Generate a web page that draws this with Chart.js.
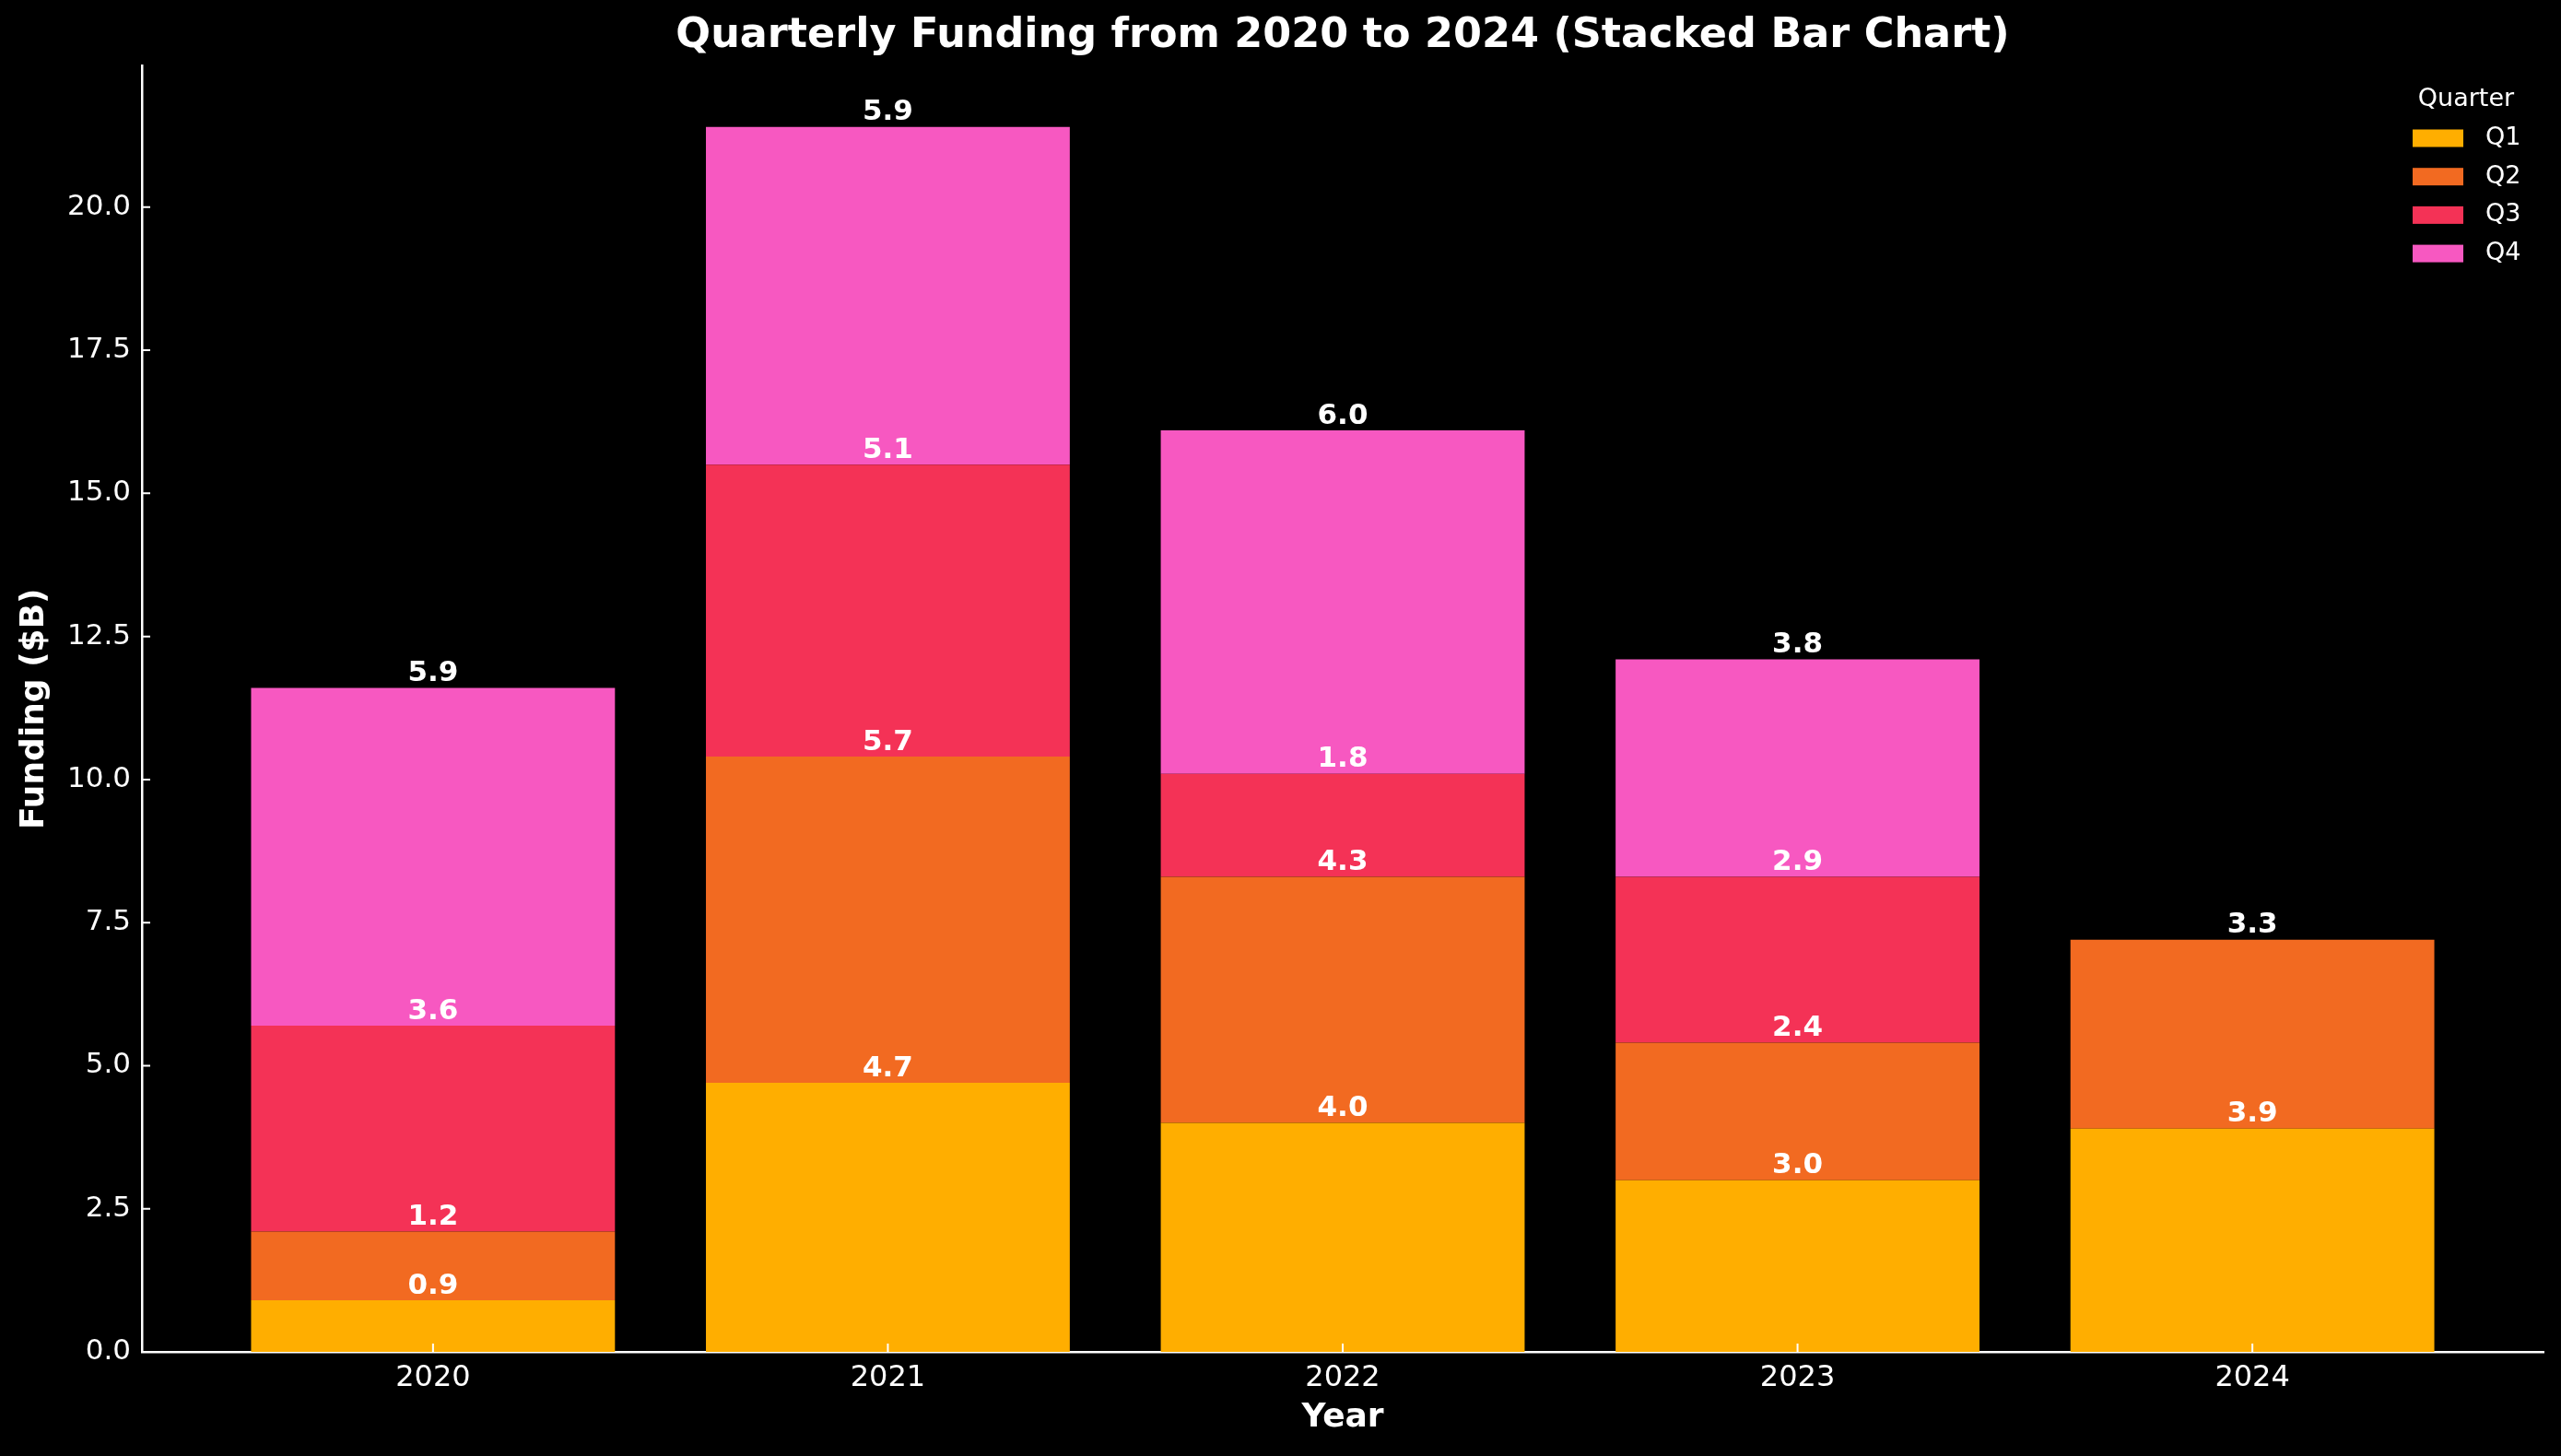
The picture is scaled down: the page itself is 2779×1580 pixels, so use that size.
<!DOCTYPE html>
<html>
<head>
<meta charset="utf-8">
<title>Quarterly Funding</title>
<script src="https://cdn.jsdelivr.net/npm/chart.js@4/dist/chart.umd.min.js"></script>
<style>
  html, body { margin: 0; padding: 0; background: #000; }
  canvas { display: block; }
</style>
</head>
<body>
<canvas id="chart" width="2779" height="1580"></canvas>
<script>
    // values ($B)
    const years = [2020, 2021, 2022, 2023, 2024]
    const q1 = [0.9, 4.7, 4.0, 3.0, 3.9]
    const q2 = [1.2, 5.7, 4.3, 2.4, 3.3]
    const q3 = [3.6, 5.1, 1.8, 2.9, null]
    const q4 = [5.9, 5.9, 6.0, 3.8, null]
    const quarterNames = ['Q1', 'Q2', 'Q3', 'Q4']
    const quarterColors = ['#ffae00', '#f26a21', '#f43256', '#f758c1']
    const yTicks = [0, 2.5, 5, 7.5, 10, 12.5, 15, 17.5, 20]

    const FONT = '"DejaVu Sans", "Liberation Sans", sans-serif'

    // matplotlib style: tick marks point into the plot
    const inwardTicks = {
        id: 'inwardTicks',
        afterDraw(chart) {
            const { ctx, chartArea } = chart
            const x = chart.scales.x
            const y = chart.scales.y
            ctx.save()
            ctx.strokeStyle = '#fff'
            ctx.lineWidth = 2
            ctx.beginPath()
            x.ticks.forEach(t => {
                const px = x.getPixelForValue(t.value)
                ctx.moveTo(px, chartArea.bottom)
                ctx.lineTo(px, chartArea.bottom - 9)
            })
            y.ticks.forEach(t => {
                const py = y.getPixelForValue(t.value)
                ctx.moveTo(chartArea.left, py)
                ctx.lineTo(chartArea.left + 9, py)
            })
            ctx.stroke()
            ctx.restore()
        }
    }

    // value printed on top of each segment
    const segmentLabels = {
        id: 'segmentLabels',
        afterDatasetsDraw(chart) {
            const { ctx } = chart
            ctx.save()
            ctx.fillStyle = '#fff'
            ctx.font = 'bold 31px ' + FONT
            ctx.textAlign = 'center'
            ctx.textBaseline = 'bottom'
            chart.data.datasets.forEach((ds, i) => {
                const meta = chart.getDatasetMeta(i)
                meta.data.forEach((bar, j) => {
                    const v = ds.data[j]
                    if (v == null) return
                    ctx.fillText(v.toFixed(1), bar.x, bar.y)
                })
            })
            ctx.restore()
        }
    }

    // legend sits inside the plot, top right
    const quarterLegend = {
        id: 'quarterLegend',
        afterDraw(chart) {
            const { ctx, chartArea } = chart
            const x0 = chartArea.right - 142
            ctx.save()
            ctx.font = '27px ' + FONT
            ctx.fillStyle = '#fff'
            ctx.textAlign = 'center'
            ctx.textBaseline = 'middle'
            ctx.fillText('Quarter', x0 + 58, 108)
            ctx.textAlign = 'left'
            chart.data.datasets.forEach((ds, i) => {
                const cy = 150 + i * 41.7
                ctx.fillStyle = ds.backgroundColor
                ctx.fillRect(x0, cy - 9.5, 55, 19)
                ctx.fillStyle = '#fff'
                ctx.fillText(ds.label, x0 + 79, cy)
            })
            ctx.restore()
        }
    }

    const series = [q1, q2, q3, q4]
    const datasets = series.map((values, i) => ({
        label: quarterNames[i],
        data: values,
        backgroundColor: quarterColors[i],
        borderWidth: 0,
        categoryPercentage: 1,
        barPercentage: 0.8,
    }))

    const chart = new Chart(document.getElementById('chart'), {
        type: 'bar',
        data: { labels: years, datasets },
        options: {
            responsive: false,
            animation: false,
            devicePixelRatio: 1,
            layout: { padding: { left: 0, right: 19, top: 0, bottom: 0 } },
            plugins: {
                legend: { display: false },
                tooltip: { enabled: false },
                title: {
                    display: true,
                    fullSize: false, // centre over the plot, like matplotlib
                    text: 'Quarterly Funding from 2020 to 2024 (Stacked Bar Chart)',
                    color: '#fff',
                    font: { family: FONT, size: 44.5, weight: 'bold' },
                    padding: { top: 13, bottom: 5 },
                },
            },
            scales: {
                x: {
                    type: 'linear',
                    stacked: true,
                    offset: false,
                    min: years[0] - 0.64,
                    max: years[years.length - 1] + 0.64,
                    afterBuildTicks: axis => { axis.ticks = years.map(v => ({ value: v })) },
                    afterFit: axis => { axis.height = 113 },
                    grid: { display: false, drawTicks: false, offset: false },
                    border: { color: '#fff', width: 2.5 },
                    ticks: {
                        color: '#fff',
                        font: { family: FONT, size: 32 },
                        padding: 9,
                        maxRotation: 0,
                        callback: v => String(v),
                    },
                    title: {
                        display: true,
                        text: 'Year',
                        color: '#fff',
                        font: { family: FONT, size: 36, weight: 'bold' },
                        padding: { top: 0, bottom: 20 },
                    },
                },
                y: {
                    stacked: true,
                    min: 0,
                    max: 22.47,
                    afterBuildTicks: axis => { axis.ticks = yTicks.map(v => ({ value: v })) },
                    afterFit: axis => { axis.width = 154 },
                    grid: { display: false, drawTicks: false },
                    border: { color: '#fff', width: 2.5 },
                    ticks: {
                        color: '#fff',
                        font: { family: FONT, size: 31 },
                        padding: 12,
                        callback: v => v.toFixed(1),
                    },
                    title: {
                        display: true,
                        text: 'Funding ($B)',
                        color: '#fff',
                        font: { family: FONT, size: 36, weight: 'bold' },
                        padding: { top: 16, bottom: 0 },
                    },
                },
            },
        },
        plugins: [inwardTicks, segmentLabels, quarterLegend],
    })
</script>
</body>
</html>
